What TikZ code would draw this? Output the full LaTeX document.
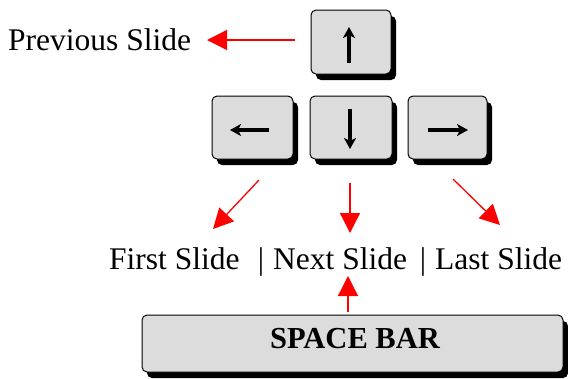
\documentclass[tikz,border=0pt]{standalone}
\usepackage{fontspec}
\setmainfont{Liberation Serif}
\usetikzlibrary{arrows.meta,shadows}
\definecolor{keygray}{HTML}{DCDCDC}
\begin{document}
\begin{tikzpicture}[x=1bp,y=-1bp,
  keybox/.style={draw=black,line width=1bp,fill=keygray,rounded corners=5bp,inner sep=0pt,
    drop shadow={shadow xshift=5bp,shadow yshift=-6bp,fill=black,opacity=1}},
  glyph/.style={line width=3.5bp,-{Stealth[length=11bp,width=12bp,inset=3bp]}},
  redarrow/.style={draw=red,line width=1.3bp,-{Triangle[length=20bp,width=20bp]},red},
  lbl/.style={inner sep=0pt,font=\fontsize{31.5bp}{36bp}\selectfont},
  boldlbl/.style={inner sep=0pt,font=\fontsize{30.5bp}{36bp}\selectfont\bfseries}]
\useasboundingbox (0,0) rectangle (568,378);
% keys
\node[keybox,minimum width=80bp,minimum height=64bp] (up) at (351,42) {};
\node[keybox,minimum width=81bp,minimum height=63bp] (lk) at (252.5,127.5) {};
\node[keybox,minimum width=82bp,minimum height=63bp] (dn) at (351,127.5) {};
\node[keybox,minimum width=79bp,minimum height=63bp] (rk) at (447.5,127.5) {};
\node[keybox,minimum width=421bp,minimum height=57bp] (sp) at (352.5,343.5) {};
\node[boldlbl,anchor=base] (sptxt) at (355,348) {SPACE BAR};
% key glyphs
\draw[glyph] ([shift={(-2,21)}]up.center) -- ([shift={(-2,-15)}]up.center);
\draw[glyph] ([shift={(-1,-18.5)}]dn.center) -- ([shift={(-1,21.5)}]dn.center);
\draw[glyph] ([shift={(16.5,2.5)}]lk.center) -- ([shift={(-22.5,2.5)}]lk.center);
\draw[glyph] ([shift={(-19.5,2.5)}]rk.center) -- ([shift={(20.5,2.5)}]rk.center);
% labels
\node[lbl,anchor=base west] (prev) at (8,50) {Previous Slide};
\node[lbl,anchor=base west] (first) at (109,269) {First Slide};
\node[lbl,anchor=base] (bar1) at (261,269) {|};
\node[lbl,anchor=base west] (next) at (273,269) {Next Slide};
\node[lbl,anchor=base] (bar2) at (423,269) {|};
\node[lbl,anchor=base west] (last) at (435,269) {Last Slide};
% arrow ends
\coordinate (pa) at (295,40);
\coordinate (pb) at (207,40);
\coordinate (fa) at (259,180);
\coordinate (fb) at (213,229);
\coordinate (na) at (350,183);
\coordinate (nb) at (350,233);
\coordinate (la) at (453,179);
\coordinate (lb) at (500,225);
\coordinate (sa) at (348,312);
\coordinate (sb) at (348,276);
\draw[redarrow] (pa) -- (pb);
\draw[redarrow] (fa) -- (fb);
\draw[redarrow] (na) -- (nb);
\draw[redarrow] (la) -- (lb);
\draw[redarrow] (sa) -- (sb);
\end{tikzpicture}
\end{document}
